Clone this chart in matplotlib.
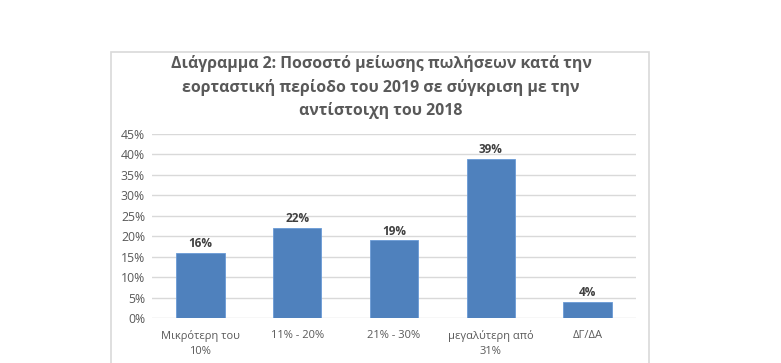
import matplotlib
matplotlib.use("Agg")
import matplotlib.pyplot as plt
from matplotlib.patches import Rectangle
from matplotlib.ticker import FuncFormatter, MultipleLocator

categories = ["Μικρότερη του\n10%", "11% - 20%", "21% - 30%", "μεγαλύτερη από\n31%", "ΔΓ/ΔΑ"]
values = [0.16, 0.22, 0.19, 0.39, 0.04]
title = "Διάγραμμα 2: Ποσοστό μείωσης πωλήσεων κατά την\nεορταστική περίοδο του 2019 σε σύγκριση με την\nαντίστοιχη του 2018"

plt.rcParams['font.family'] = ['Open Sans', 'DejaVu Sans']
W, H = 781, 363
fig = plt.figure(figsize=(W/100, H/100), dpi=100)
fig.patch.set_facecolor("white")

# chart border
fig.patches.append(Rectangle((111/W, -0.05), (649-111)/W, (363-52)/H + 0.05,
                             transform=fig.transFigure, fill=False,
                             edgecolor="#D9D9D9", linewidth=1.2))

ax = fig.add_axes([152/W, 45/H, (636-152)/W, (229-45)/H])
x = range(len(categories))
ax.bar(x, values, width=0.5, color="#4F81BD", edgecolor="#6A9AD6", linewidth=0.6, zorder=3)
ax.set_xlim(-0.5, len(categories)-0.5)
ax.set_ylim(0, 0.45)
ax.yaxis.set_major_locator(MultipleLocator(0.05))
ax.yaxis.set_major_formatter(FuncFormatter(lambda v, p: f"{round(v*100):d}%"))
ax.grid(axis="y", color="#D9D9D9", linewidth=1, zorder=0)
for s in ax.spines.values():
    s.set_visible(False)
ax.tick_params(axis="both", length=0, labelcolor="#595959")
ax.tick_params(axis="y", pad=5, labelsize=8.8)
ax.tick_params(axis="x", pad=9, labelsize=8)
ax.set_xticks(list(x))
ax.set_xticklabels(categories, linespacing=1.45)

for i, v in zip(x, values):
    ax.annotate(f"{round(v*100):d}%", (i, v), xytext=(0, 2), textcoords="offset points",
                ha="center", va="bottom", fontsize=8.5, fontweight="bold", color="#404040")

fig.text(381/W, 1 - 87/H, title, ha="center", va="center", fontsize=11.4,
         fontweight="bold", color="#595959", linespacing=1.5)

fig.savefig("out.png", dpi=100, facecolor="white")
